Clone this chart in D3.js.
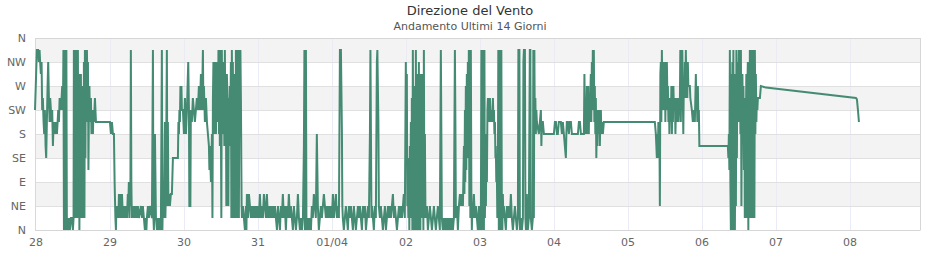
<!DOCTYPE html>
<html>
<head>
<meta charset="utf-8">
<script src="https://cdnjs.cloudflare.com/ajax/libs/d3/7.8.5/d3.min.js"></script>
<style>
  body { margin: 0; background: #fff; }
  text { font-family: "DejaVu Sans", Verdana, sans-serif; }
  .axis path { display: none; }
  .axis text { fill: #666; font-size: 11px; }
  .title { fill: #333; font-size: 13px; }
  .subtitle { fill: #555; font-size: 11px; }
</style>
</head>
<body>
<svg width="940" height="260" class="wind"></svg>
<script>

// compass axis (degrees, N at bottom and top)
const dirTicks = [0, 45, 90, 135, 180, 225, 270, 315, 360];
const dirLabels = ["N", "NE", "E", "SE", "S", "SW", "W", "NW", "N"];

// day ticks, hours since 28/03 00:00
const dayTicks = [0, 24, 48, 72, 96, 120, 144, 168, 192, 216, 240, 264];
const dayLabels = ["28", "29", "30", "31", "01/04", "02", "03", "04", "05", "06", "07", "08"];

// [hours since 28/03 00:00, direction in degrees]
const samples = [
  [-0.2,225],[0.17,292.5],[0.40,337.5],[0.82,337.5],[1.05,315],[1.28,337.5],[1.47,315],[1.70,292.5],[1.93,315],[2.13,225],
  [2.35,247.5],[2.58,202.5],[2.78,180],[3.00,225],[3.23,157.5],[3.43,135],[3.65,202.5],[3.88,270],[4.08,315],[4.31,247.5],
  [4.53,202.5],[4.73,247.5],[4.96,225],[5.18,202.5],[5.38,225],[5.61,157.5],[5.84,202.5],[6.03,180],[6.26,202.5],[6.49,180],
  [6.68,202.5],[6.91,180],[7.14,202.5],[7.33,225],[7.56,202.5],[7.79,247.5],[8.21,225],[8.63,270],[8.86,225],[9.02,337.5],
  [9.19,0],[9.35,337.5],[9.51,22.5],[9.67,337.5],[9.84,0],[9.97,337.5],[10.13,22.5],[10.46,0],[10.78,22.5],[11.11,0],
  [11.43,22.5],[11.76,22.5],[12.09,0],[12.31,22.5],[12.41,337.5],[12.57,22.5],[12.74,337.5],[12.90,22.5],[13.06,315],[13.22,22.5],
  [13.39,337.5],[13.55,22.5],[13.71,337.5],[13.87,22.5],[14.04,292.5],[14.20,0],[14.36,270],[14.53,22.5],[14.69,292.5],[14.85,22.5],
  [15.01,225],[15.18,22.5],[15.34,270],[15.50,22.5],[15.66,315],[15.83,22.5],[15.99,337.5],[16.15,135],[16.32,337.5],[16.48,202.5],
  [16.64,337.5],[16.80,270],[16.97,315],[17.13,112.5],[17.29,225],[17.45,270],[17.62,202.5],[17.94,247.5],[18.11,180],[18.27,225],
  [18.59,180],[18.76,225],[18.92,202.5],[19.24,247.5],[19.57,202.5],[24.10,202.5],[24.42,180],[24.75,202.5],[25.07,180],[25.40,180],
  [25.62,90],[25.88,22.5],[26.05,0],[26.21,45],[26.37,22.5],[26.70,45],[26.86,22.5],[27.02,67.5],[27.19,22.5],[27.35,45],
  [27.67,67.5],[27.84,22.5],[28.00,67.5],[28.16,45],[28.33,22.5],[28.65,45],[28.81,22.5],[28.98,45],[29.30,22.5],[29.46,45],
  [29.63,22.5],[29.91,67.5],[30.07,45],[30.24,90],[30.40,22.5],[30.56,90],[30.73,45],[30.89,337.5],[31.05,90],[31.21,22.5],
  [31.54,45],[31.70,22.5],[31.87,45],[32.19,22.5],[32.52,45],[32.84,22.5],[33.17,45],[33.49,22.5],[34.14,45],[34.47,22.5],
  [34.79,45],[35.12,22.5],[35.44,0],[35.77,22.5],[35.93,0],[36.09,22.5],[36.42,45],[36.75,22.5],[37.07,45],[37.72,22.5],
  [38.05,337.5],[38.21,22.5],[38.37,0],[38.70,180],[39.02,22.5],[39.35,0],[39.64,22.5],[39.97,0],[40.30,22.5],[40.62,0],
  [40.95,337.5],[41.11,0],[41.27,45],[41.60,22.5],[41.92,202.5],[42.08,22.5],[42.25,67.5],[42.57,337.5],[42.74,45],[42.90,202.5],
  [43.06,45],[43.22,67.5],[43.55,45],[43.87,67.5],[44.20,67.5],[44.53,135],[46.15,135],[46.32,202.5],[46.48,180],[46.64,225],
  [46.80,202.5],[46.97,270],[47.13,247.5],[47.29,270],[47.45,225],[47.78,225],[48.10,180],[48.43,247.5],[48.76,180],[49.08,225],
  [49.50,315],[49.73,225],[49.86,45],[50.19,45],[50.35,225],[50.68,202.5],[51.00,247.5],[51.33,225],[51.65,202.5],[51.98,225],
  [52.30,247.5],[52.63,225],[52.96,270],[53.28,225],[53.61,292.5],[53.93,225],[54.26,337.5],[54.42,225],[54.58,270],[54.91,202.5],
  [55.23,247.5],[55.56,202.5],[55.88,180],[56.21,157.5],[56.37,112.5],[56.54,157.5],[56.86,90],[57.19,180],[57.35,22.5],[57.51,247.5],
  [57.67,315],[57.84,180],[58.00,292.5],[58.16,202.5],[58.32,315],[58.49,180],[58.65,292.5],[58.81,225],[58.98,315],[59.14,202.5],
  [59.30,337.5],[59.46,180],[59.63,315],[59.75,157.5],[59.91,337.5],[60.07,225],[60.24,22.5],[60.40,337.5],[60.56,202.5],[60.73,315],
  [60.89,180],[61.05,292.5],[61.21,157.5],[61.38,337.5],[61.54,180],[61.70,270],[61.86,45],[62.03,292.5],[62.35,225],[62.52,45],
  [62.68,247.5],[62.84,157.5],[63.00,270],[63.17,202.5],[63.33,315],[63.49,22.5],[63.65,337.5],[63.82,202.5],[63.98,315],[64.14,22.5],
  [64.30,292.5],[64.47,22.5],[64.63,225],[64.79,22.5],[64.96,337.5],[65.12,22.5],[65.28,315],[65.44,22.5],[65.61,337.5],[65.77,202.5],
  [65.93,22.5],[66.09,337.5],[66.26,180],[66.42,337.5],[66.58,247.5],[66.81,45],[66.91,22.5],[67.23,45],[67.56,22.5],[67.88,0],
  [68.21,45],[68.37,0],[68.53,67.5],[68.86,22.5],[69.19,67.5],[69.51,45],[69.81,22.5],[70.13,45],[70.46,22.5],[70.78,45],
  [71.11,22.5],[71.43,45],[71.76,22.5],[72.08,45],[72.41,22.5],[72.74,67.5],[73.06,22.5],[73.39,45],[73.71,22.5],[74.04,67.5],
  [74.36,45],[74.69,22.5],[75.01,67.5],[75.34,22.5],[75.66,45],[75.99,22.5],[76.31,45],[76.64,22.5],[76.97,45],[77.29,22.5],
  [77.62,45],[77.94,22.5],[78.27,0],[78.59,45],[78.92,22.5],[79.24,0],[79.54,45],[79.86,22.5],[80.19,67.5],[80.51,22.5],
  [80.84,45],[81.17,0],[81.49,45],[81.82,22.5],[82.14,67.5],[82.47,22.5],[82.79,45],[83.12,22.5],[83.44,0],[83.77,45],
  [84.09,22.5],[84.42,0],[84.74,22.5],[85.07,67.5],[85.40,22.5],[85.72,0],[86.05,22.5],[86.37,0],[86.70,22.5],[87.02,157.5],
  [87.18,337.5],[87.35,0],[87.51,157.5],[87.67,337.5],[87.83,22.5],[88.00,0],[88.32,22.5],[88.65,0],[88.98,22.5],[89.30,0],
  [89.59,45],[89.91,22.5],[90.24,67.5],[90.56,45],[90.89,22.5],[91.21,180],[91.38,112.5],[91.54,45],[91.86,0],[92.19,22.5],
  [92.51,45],[92.84,22.5],[93.17,45],[93.49,67.5],[93.82,45],[94.14,22.5],[94.47,45],[94.79,22.5],[95.12,45],[95.44,22.5],
  [95.77,45],[96.09,22.5],[96.42,67.5],[96.75,22.5],[97.07,45],[97.40,67.5],[97.72,22.5],[98.05,45],[98.37,22.5],[98.70,337.5],
  [99.02,337.5],[99.35,180],[99.48,45],[99.64,22.5],[99.97,0],[100.29,22.5],[100.62,45],[100.94,22.5],[101.27,0],[101.60,45],
  [101.92,22.5],[102.25,45],[102.57,22.5],[102.90,0],[103.22,45],[103.55,22.5],[103.87,0],[104.20,22.5],[104.52,45],[104.85,22.5],
  [105.18,45],[105.50,22.5],[105.83,0],[106.15,45],[106.48,22.5],[106.80,45],[107.13,0],[107.45,22.5],[107.78,45],[108.10,22.5],
  [108.43,180],[108.59,337.5],[108.76,180],[108.92,22.5],[109.08,45],[109.41,22.5],[109.70,0],[110.03,45],[110.35,22.5],[110.68,315],
  [110.84,337.5],[111.17,202.5],[111.33,45],[111.66,22.5],[111.98,45],[112.31,22.5],[112.63,0],[112.96,22.5],[113.28,45],[113.61,0],
  [113.93,22.5],[114.26,45],[114.58,22.5],[114.91,45],[115.23,22.5],[115.56,45],[115.88,67.5],[116.21,22.5],[116.53,45],[116.86,22.5],
  [117.19,0],[117.51,22.5],[117.84,45],[118.16,22.5],[118.49,45],[118.81,22.5],[119.14,45],[119.42,67.5],[119.75,22.5],[120.07,315],
  [120.24,135],[120.40,292.5],[120.56,45],[120.72,90],[120.89,22.5],[121.05,135],[121.21,0],[121.38,157.5],[121.54,67.5],[121.70,202.5],
  [121.86,22.5],[122.03,247.5],[122.19,0],[122.35,337.5],[122.51,67.5],[122.68,202.5],[122.84,0],[123.00,270],[123.16,45],[123.33,337.5],
  [123.49,0],[123.65,292.5],[123.82,22.5],[123.98,225],[124.14,0],[124.30,315],[124.47,22.5],[124.63,292.5],[124.79,0],[124.95,270],
  [125.12,22.5],[125.28,292.5],[125.44,45],[125.61,180],[125.77,0],[125.93,337.5],[126.09,22.5],[126.26,180],[126.42,45],[126.58,22.5],
  [126.91,45],[127.23,0],[127.56,22.5],[127.88,45],[128.21,22.5],[128.53,0],[128.86,22.5],[129.18,45],[129.48,22.5],[129.81,0],
  [130.13,22.5],[130.46,45],[130.78,22.5],[131.11,0],[131.43,337.5],[131.60,180],[131.76,22.5],[132.08,0],[132.41,22.5],[132.73,0],
  [133.06,22.5],[133.39,0],[133.71,22.5],[134.04,0],[134.36,22.5],[134.69,0],[135.01,22.5],[135.34,0],[135.66,22.5],[135.99,337.5],
  [136.15,202.5],[136.31,22.5],[136.64,45],[136.96,0],[137.29,45],[137.62,67.5],[137.94,45],[138.27,67.5],[138.59,45],[138.92,157.5],
  [139.08,67.5],[139.24,225],[139.37,90],[139.54,270],[139.70,112.5],[139.86,292.5],[140.03,135],[140.19,315],[140.35,180],[140.51,337.5],
  [140.68,45],[140.84,315],[141.00,22.5],[141.16,337.5],[141.33,67.5],[141.49,0],[141.65,45],[141.82,22.5],[142.14,67.5],[142.47,22.5],
  [142.79,45],[143.12,22.5],[143.44,0],[143.77,45],[144.09,0],[144.42,22.5],[144.58,337.5],[144.74,0],[144.91,337.5],[145.07,22.5],
  [145.23,337.5],[145.40,0],[145.56,337.5],[145.72,22.5],[145.88,135],[146.05,45],[146.21,180],[146.37,90],[146.54,225],[146.70,247.5],
  [146.86,202.5],[147.02,225],[147.35,247.5],[147.51,202.5],[147.67,225],[148.00,202.5],[148.32,247.5],[148.49,202.5],[148.65,225],[148.81,180],
  [148.98,202.5],[149.14,135],[149.26,157.5],[149.42,90],[149.59,112.5],[149.75,22.5],[149.91,67.5],[150.07,337.5],[150.24,0],[150.40,337.5],
  [150.56,22.5],[150.73,337.5],[150.89,0],[151.05,337.5],[151.21,45],[151.38,0],[151.54,67.5],[151.70,22.5],[151.86,45],[152.19,22.5],
  [152.51,0],[152.84,45],[153.16,22.5],[153.49,45],[153.82,22.5],[154.14,67.5],[154.47,22.5],[154.79,0],[155.12,22.5],[155.44,45],
  [155.77,22.5],[156.09,0],[156.42,22.5],[156.58,337.5],[156.91,337.5],[157.07,0],[157.39,22.5],[157.72,0],[158.05,22.5],[158.21,315],
  [158.37,337.5],[158.70,337.5],[158.86,22.5],[159.02,0],[159.32,67.5],[159.48,22.5],[159.64,0],[159.97,22.5],[160.29,337.5],[160.46,337.5],
  [160.62,22.5],[160.95,0],[161.27,22.5],[161.43,337.5],[161.60,22.5],[161.76,337.5],[161.92,180],[162.08,247.5],[162.25,180],[162.41,225],
  [162.57,202.5],[163.22,180],[163.55,202.5],[163.87,225],[164.04,157.5],[164.20,202.5],[164.52,202.5],[164.85,180],[168.10,180],[168.43,202.5],
  [168.75,202.5],[169.08,180],[169.37,180],[169.70,202.5],[170.35,202.5],[170.68,180],[171.00,202.5],[171.33,180],[171.65,157.5],[171.98,135],
  [172.14,180],[172.30,202.5],[172.63,202.5],[172.95,180],[173.28,202.5],[173.61,202.5],[173.93,180],[175.88,180],[176.21,202.5],[176.53,202.5],
  [176.86,180],[177.83,180],[178.00,292.5],[178.16,202.5],[178.32,247.5],[178.49,180],[178.81,270],[178.97,180],[179.14,225],[179.26,270],
  [179.42,180],[179.58,247.5],[179.75,202.5],[180.07,292.5],[180.24,202.5],[180.40,315],[180.56,225],[180.72,337.5],[180.89,247.5],[181.05,337.5],
  [181.21,202.5],[181.37,270],[181.54,180],[181.70,247.5],[181.86,135],[182.02,202.5],[182.19,157.5],[182.35,225],[182.68,180],[182.84,225],
  [183.00,157.5],[183.16,202.5],[183.33,225],[183.49,180],[183.65,202.5],[183.98,180],[184.30,202.5],[200.84,202.5],[201.16,180],[201.33,157.5],
  [201.49,135],[201.65,180],[201.81,135],[201.98,202.5],[202.14,157.5],[202.30,202.5],[202.47,45],[202.63,292.5],[202.79,315],[202.95,202.5],
  [203.12,337.5],[203.28,247.5],[203.44,315],[203.60,225],[203.77,292.5],[203.93,270],[204.09,315],[204.25,202.5],[204.42,292.5],[204.58,225],
  [204.74,315],[204.91,247.5],[205.07,270],[205.23,202.5],[205.39,247.5],[205.56,180],[205.72,225],[205.88,247.5],[206.04,202.5],[206.21,270],
  [206.37,180],[206.53,247.5],[206.70,202.5],[206.86,270],[207.02,225],[207.35,247.5],[207.51,180],[207.67,225],[207.83,247.5],[208.00,202.5],
  [208.16,225],[208.32,247.5],[208.49,202.5],[208.65,225],[208.97,247.5],[209.10,337.5],[209.26,202.5],[209.42,292.5],[209.58,225],[209.75,337.5],
  [209.91,247.5],[210.07,180],[210.23,270],[210.40,247.5],[210.56,315],[210.72,247.5],[210.89,337.5],[211.05,270],[211.21,292.5],[211.37,247.5],
  [211.54,315],[211.70,270],[212.19,270],[212.35,247.5],[212.84,225],[213.16,202.5],[213.49,225],[213.81,202.5],[213.98,247.5],[214.14,292.5],
  [214.30,225],[214.46,247.5],[214.63,202.5],[214.79,270],[214.95,202.5],[215.12,225],[215.28,157.5],[224.52,157.5],[224.69,135],[224.85,180],
  [225.01,112.5],[225.17,337.5],[225.34,90],[225.50,0],[225.66,292.5],[225.82,45],[225.99,315],[226.15,0],[226.31,337.5],[226.48,22.5],
  [226.64,292.5],[226.80,0],[226.96,202.5],[227.13,45],[227.29,337.5],[227.45,135],[227.61,315],[227.78,202.5],[227.94,270],[228.10,337.5],
  [228.27,202.5],[228.43,315],[228.59,180],[228.75,337.5],[228.92,45],[229.08,225],[229.24,292.5],[229.40,202.5],[229.57,270],[229.73,112.5],
  [229.89,225],[230.02,22.5],[230.19,247.5],[230.35,180],[230.51,292.5],[230.68,22.5],[230.84,270],[231.00,315],[231.16,0],[231.33,292.5],
  [231.49,22.5],[231.65,337.5],[231.81,45],[231.98,315],[232.14,22.5],[232.30,337.5],[232.47,202.5],[232.63,337.5],[232.79,22.5],[232.95,315],
  [233.12,22.5],[233.28,337.5],[233.44,180],[233.60,292.5],[233.77,202.5],[233.93,247.5],[234.09,225],[234.26,247.5],[234.91,247.5],[235.23,270],
  [236.86,267],[266.06,247.5],[266.38,245],[266.71,225],[267.03,202.5]
];

let svg = d3.select(".wind");

let x = d3.scaleLinear().domain([-0.2, 287]).range([35, 920.5]);
let y = d3.scaleLinear().domain([0, 360]).range([230, 38]);

let left = x.range()[0], right = x.range()[1];

// alternating bands
svg.selectAll(".band")
  .data(dirTicks.slice(0, -1).filter(function(d, i) { return i % 2 == 1; }))
  .enter().append("rect")
    .attr("class", "band")
    .attr("x", left)
    .attr("width", right - left)
    .attr("y", function(d) { return y(d + 45); })
    .attr("height", function(d) { return y(d) - y(d + 45); })
    .attr("fill", "#f3f3f3");

// vertical day lines
svg.selectAll(".vgrid")
  .data(dayTicks.slice(1))
  .enter().append("line")
    .attr("class", "vgrid")
    .attr("x1", function(d) { return Math.round(x(d)) + 0.5; })
    .attr("x2", function(d) { return Math.round(x(d)) + 0.5; })
    .attr("y1", y(360))
    .attr("y2", y(0))
    .attr("stroke", "#ebebf5");

// horizontal grid
svg.selectAll(".hgrid")
  .data(dirTicks)
  .enter().append("line")
    .attr("class", "hgrid")
    .attr("x1", left)
    .attr("x2", right)
    .attr("y1", function(d) { return Math.round(y(d)) + 0.5; })
    .attr("y2", function(d) { return Math.round(y(d)) + 0.5; })
    .attr("stroke", function(d) { return (d == 0 || d == 360) ? "#d6d6d6" : "#e0e0e0"; });

svg.append("line")
  .attr("x1", left + 0.5).attr("x2", left + 0.5)
  .attr("y1", y(360)).attr("y2", y(0))
  .attr("stroke", "#d9d9d9");
svg.append("line")
  .attr("x1", right).attr("x2", right)
  .attr("y1", y(360)).attr("y2", y(0))
  .attr("stroke", "#d6d6d6");

let line = d3.line()
  .x(function(d) { return x(d[0]); })
  .y(function(d) { return y(d[1]); });

svg.append("path")
  .datum(samples)
  .attr("fill", "none")
  .attr("stroke", "#458b73")
  .attr("stroke-width", 2)
  .attr("d", line);

svg.append("g")
  .attr("class", "axis")
  .attr("transform", "translate(" + left + ",0)")
  .call(d3.axisLeft(y).tickValues(dirTicks)
    .tickFormat(function(d, i) { return dirLabels[i]; })
    .tickSize(0).tickPadding(9));

svg.append("g")
  .attr("class", "axis")
  .attr("transform", "translate(0," + y(0) + ")")
  .call(d3.axisBottom(x).tickValues(dayTicks)
    .tickFormat(function(d, i) { return dayLabels[i]; })
    .tickSize(0).tickPadding(8));

svg.append("text")
  .attr("class", "title")
  .attr("x", 470).attr("y", 15)
  .attr("text-anchor", "middle")
  .text("Direzione del Vento");

svg.append("text")
  .attr("class", "subtitle")
  .attr("x", 470).attr("y", 30)
  .attr("text-anchor", "middle")
  .text("Andamento Ultimi 14 Giorni");

</script>
</body>
</html>
